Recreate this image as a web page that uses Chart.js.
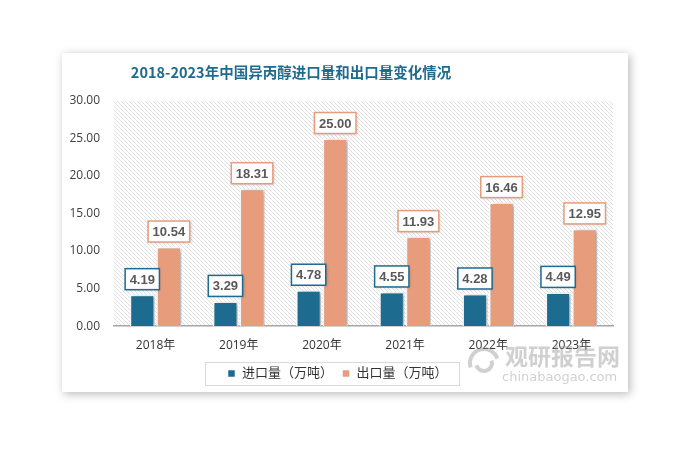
<!DOCTYPE html>
<html lang="zh">
<head>
<meta charset="UTF-8">
<title>异丙醇进出口量</title>
<script src="https://cdn.jsdelivr.net/npm/chart.js"></script>
<style>
    body { margin: 0; background: #fff; }
    #card {
        position: absolute; left: 62px; top: 53px; width: 566px; height: 339px;
        background: #fff; box-shadow: 2px 2px 9px rgba(0,0,0,0.28);
    }
    #c { position: absolute; left: 0; top: 0; }
</style>
</head>
<body>
<div id="card"></div>
<canvas id="c" width="690" height="453"></canvas>
<script>
// 数据
const years = ['2018年', '2019年', '2020年', '2021年', '2022年', '2023年'];
const importVals = [4.19, 3.29, 4.78, 4.55, 4.28, 4.49];
const exportVals = [10.54, 18.31, 25.00, 11.93, 16.46, 12.95];
const seriesNames = ['进口量（万吨）', '出口量（万吨）'];
const blue = '#1d6b8f';
const orange = '#e79c7b';
const cjk = '"Open Sans", "Noto Sans CJK SC", sans-serif';

// 斜线底纹
const tile = document.createElement('canvas');
tile.width = 4; tile.height = 4;
const tc = tile.getContext('2d');
tc.fillStyle = '#fff';
tc.fillRect(0, 0, 4, 4);
tc.strokeStyle = '#e0e0e0';
tc.lineWidth = 1;
tc.beginPath();
tc.moveTo(-1, -1); tc.lineTo(5, 5);
tc.moveTo(-1, 3); tc.lineTo(1, 5);
tc.moveTo(3, -1); tc.lineTo(5, 1);
tc.stroke();

const decor = {
    id: 'decor',
    beforeDraw(chart) {
        const ctx = chart.ctx, a = chart.chartArea;
        ctx.save();
        ctx.fillStyle = ctx.createPattern(tile, 'repeat');
        ctx.fillRect(a.left, a.top, a.right - a.left, a.bottom - a.top);
        // 标题
        ctx.fillStyle = '#1d6b8f';
        ctx.font = 'bold 14.5px "Noto Sans CJK SC", serif';
        ctx.textAlign = 'center';
        ctx.textBaseline = 'middle';
        ctx.fillText('2018-2023年中国异丙醇进口量和出口量变化情况', 291, 72);
        ctx.restore();
    },
    beforeDatasetsDraw(chart) {
        const ctx = chart.ctx;
        ctx.save();
        ctx.shadowColor = 'rgba(0,0,0,0.35)';
        ctx.shadowBlur = 4;
        ctx.shadowOffsetX = 2;
        ctx.shadowOffsetY = 1;
    },
    afterDatasetsDraw(chart) {
        const ctx = chart.ctx;
        ctx.restore();
        // 数据标签
        ctx.save();
        ctx.font = 'bold 13px "Liberation Sans", sans-serif';
        ctx.textAlign = 'center';
        ctx.textBaseline = 'middle';
        chart.data.datasets.forEach((ds, i) => {
            chart.getDatasetMeta(i).data.forEach((bar, j) => {
                const txt = ds.data[j].toFixed(2);
                const w = ctx.measureText(txt).width + 9;
                const h = 21;
                const x = bar.x - w / 2, y = bar.y - 5 - h;
                ctx.shadowColor = 'rgba(0,0,0,0.2)';
                ctx.shadowBlur = 3;
                ctx.shadowOffsetX = 1;
                ctx.shadowOffsetY = 1;
                ctx.fillStyle = '#fff';
                ctx.fillRect(x, y, w, h);
                ctx.shadowColor = 'transparent';
                ctx.strokeStyle = ds.backgroundColor;
                ctx.lineWidth = 1.5;
                ctx.strokeRect(x, y, w, h);
                ctx.fillStyle = '#595959';
                ctx.fillText(txt, bar.x, y + h / 2 + 1);
            });
        });
        ctx.restore();
    },
    afterDraw(chart) {
        const ctx = chart.ctx, lg = chart.legend;
        const boxes = lg.legendHitBoxes;
        if (!boxes || !boxes.length) return;
        const first = boxes[0], last = boxes[boxes.length - 1];
        const cy = first.top + first.height / 2;
        ctx.save();
        ctx.strokeStyle = '#d9d9d9';
        ctx.lineWidth = 1;
        ctx.strokeRect(Math.round(first.left - 22) + 0.5, Math.round(cy - 11.5) + 0.5,
            Math.round(last.left + last.width + 12 - first.left + 22), 23);
        // 水印
        ctx.fillStyle = 'rgba(150,150,150,0.45)';
        ctx.font = 'bold 23px "Noto Sans CJK SC", sans-serif';
        ctx.textAlign = 'left';
        ctx.textBaseline = 'middle';
        ctx.fillText('观研报告网', 505, 356);
        ctx.font = '13px "DejaVu Sans", sans-serif';
        ctx.fillText('chinabaogao.com', 502, 378);
        ctx.strokeStyle = 'rgba(150,150,150,0.45)';
        ctx.lineWidth = 4;
        ctx.beginPath();
        ctx.arc(484, 363, 14, Math.PI * 0.9, Math.PI * 1.9);
        ctx.stroke();
        ctx.beginPath();
        ctx.arc(484, 363, 8, Math.PI * -0.1, Math.PI * 0.9);
        ctx.stroke();
        ctx.restore();
    }
};

new Chart(document.getElementById('c'), {
    type: 'bar',
    data: {
        labels: years,
        datasets: [{
            label: seriesNames[0],
            data: importVals,
            backgroundColor: blue,
            borderColor: '#fff',
            borderWidth: 1.5
        }, {
            label: seriesNames[1],
            data: exportVals,
            backgroundColor: orange,
            borderColor: '#fff',
            borderWidth: 1.5
        }]
    },
    options: {
        responsive: false,
        animation: false,
        events: [],
        layout: { padding: { left: 62, right: 77, top: 101, bottom: 63 } },
        datasets: { bar: { categoryPercentage: 0.64, barPercentage: 0.94 } },
        scales: {
            x: {
                afterFit(scale) { scale.height = scale.height - 6.5; },
                grid: { display: false, drawTicks: false },
                border: { display: true, color: '#a6a6a6', width: 1.5 },
                ticks: { padding: 12, color: '#333', font: { family: cjk, size: 12 } }
            },
            y: {
                min: 0, max: 30,
                afterFit(scale) { scale.width = 52; },
                grid: { display: false, drawTicks: false },
                border: { display: false },
                ticks: {
                    stepSize: 5, padding: 14, color: '#404040',
                    font: { family: cjk, size: 12 },
                    callback: v => v.toFixed(2)
                }
            }
        },
        plugins: {
            tooltip: { enabled: false },
            legend: {
                position: 'bottom',
                labels: {
                    boxWidth: 8, boxHeight: 8, padding: 9, color: '#333',
                    font: { family: cjk, size: 13 }
                }
            }
        }
    },
    plugins: [decor]
});
</script>
</body>
</html>
